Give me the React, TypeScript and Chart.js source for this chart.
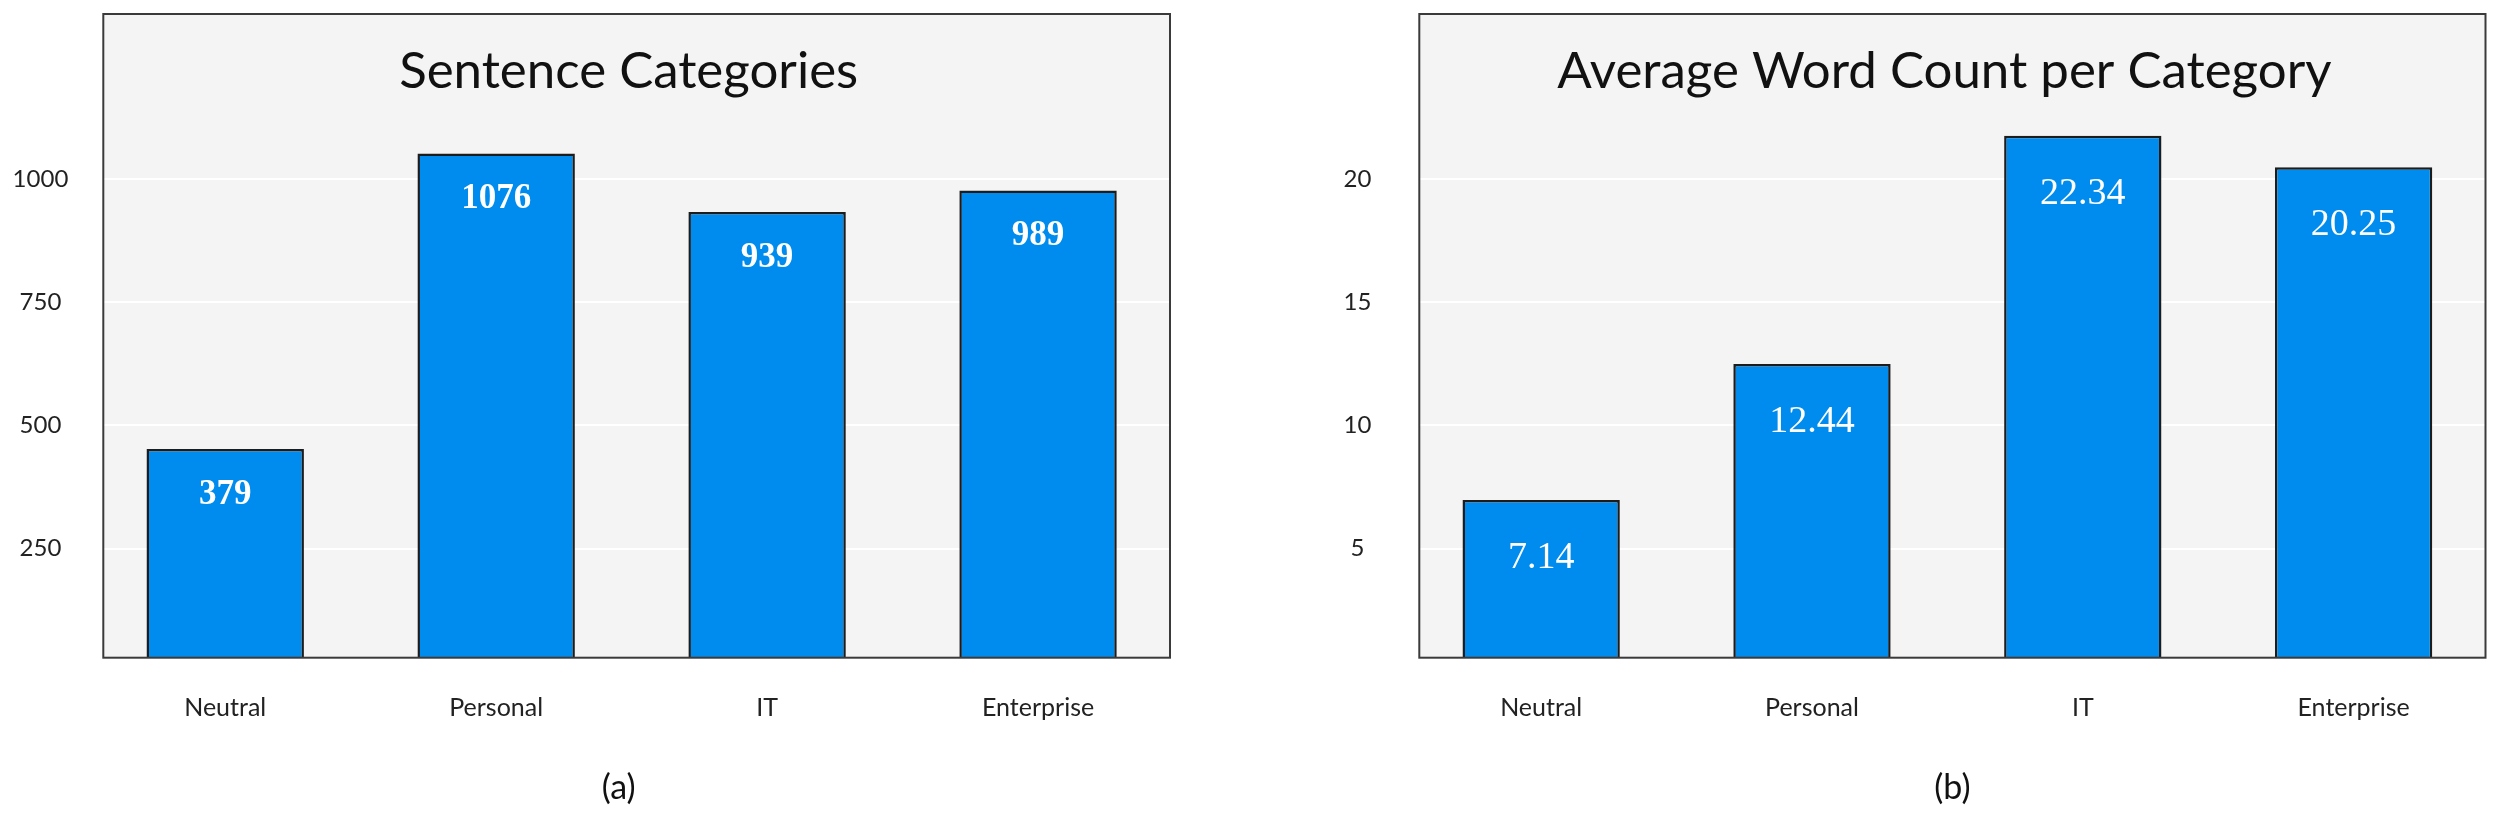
import React, { useEffect, useRef } from 'react';
import { Chart, registerables } from 'chart.js';

Chart.register(...registerables);

// ---- data ----
const categories = ['Neutral', 'Personal', 'IT', 'Enterprise'];

const countTitle = 'Sentence Categories';
const countBarValues = [452, 1052, 933, 977];
const countLabels = ['379', '1076', '939', '989'];
const countTicks = [250, 500, 750, 1000];

const wordTitle = 'Average Word Count per Category';
const wordBarValues = [6.97, 12.49, 21.76, 20.48];
const wordLabels = ['7.14', '12.44', '22.34', '20.25'];
const wordTicks = [5, 10, 15, 20];

type PanelSpec = {
  title: string;
  caption: string;
  values: number[];
  labels: string[];
  ticks: number[];
  yMin: number;
  yMax: number;
  yAxisWidth: number;
  tickPad: number;
  padRight: number;
  labelFont: string;
  labelOffset: number;
  captionDx: number;
  titleDx: number;
};

function makePlugin(spec: PanelSpec) {
  return {
    id: 'panel',
    beforeDraw(chart: any) {
      const { ctx, chartArea: a } = chart;
      ctx.save();
      ctx.fillStyle = '#f4f4f4';
      ctx.fillRect(a.left, a.top, a.right - a.left, a.bottom - a.top);
      ctx.restore();
    },
    afterDatasetsDraw(chart: any) {
      const { ctx, chartArea: a } = chart;
      const meta = chart.getDatasetMeta(0);
      ctx.save();
      ctx.fillStyle = '#ffffff';
      ctx.font = spec.labelFont;
      ctx.textAlign = 'center';
      ctx.textBaseline = 'middle';
      meta.data.forEach((bar: any, i: number) => {
        ctx.fillText(spec.labels[i], bar.x, bar.y + spec.labelOffset);
      });
      ctx.strokeStyle = '#3a3a3a';
      ctx.lineWidth = 2;
      ctx.strokeRect(a.left, a.top, a.right - a.left, a.bottom - a.top);
      const cx = (a.left + a.right) / 2;
      ctx.fillStyle = '#111111';
      ctx.font = '51px Lato';
      ctx.textBaseline = 'alphabetic';
      ctx.fillText(spec.title, cx + spec.titleDx, a.top + 74);
      ctx.font = '34px Lato';
      ctx.textBaseline = 'middle';
      ctx.fillText(spec.caption, cx + spec.captionDx, 788);
      ctx.restore();
    },
  };
}

function Panel({ spec }: { spec: PanelSpec }) {
  const ref = useRef<HTMLCanvasElement | null>(null);
  useEffect(() => {
    if (!ref.current) return;
    const chart = new Chart(ref.current, {
      type: 'bar',
      data: {
        datasets: [
          {
            data: spec.values.map((v, i) => ({ x: i, y: v })),
            backgroundColor: '#008cee',
            borderColor: '#1c1c1c',
            borderWidth: 2.5,
            categoryPercentage: 1,
            barPercentage: 0.581,
          } as any,
        ],
      },
      options: {
        animation: false,
        responsive: false,
        maintainAspectRatio: false,
        layout: { padding: { left: 0, right: spec.padRight, top: 14, bottom: 0 } },
        plugins: {
          legend: { display: false },
          tooltip: { enabled: false },
          title: { display: false },
        },
        scales: {
          x: {
            type: 'linear',
            offset: false,
            min: -0.45,
            max: 3.487,
            afterBuildTicks: (s: any) => {
              s.ticks = categories.map((_, i) => ({ value: i }));
            },
            afterFit: (s: any) => {
              s.height = 158.3;
              s.paddingLeft = 0;
              s.paddingRight = 0;
            },
            grid: { display: false, drawTicks: false },
            border: { display: false },
            ticks: {
              callback: (v: any) => categories[v as number],
              padding: 35,
              font: { family: 'Lato', size: 25 },
              color: '#222222',
              maxRotation: 0,
              autoSkip: false,
            },
          },
          y: {
            min: spec.yMin,
            max: spec.yMax,
            afterBuildTicks: (s: any) => {
              s.ticks = spec.ticks.map((v) => ({ value: v }));
            },
            afterFit: (s: any) => {
              s.width = spec.yAxisWidth;
              s.paddingTop = 0;
              s.paddingBottom = 0;
            },
            grid: { color: '#ffffff', lineWidth: 2, drawTicks: false },
            border: { display: false },
            ticks: {
              callback: (v: any) => String(v),
              crossAlign: 'center',
              padding: spec.tickPad,
              font: { family: 'Lato', size: 24 },
              color: '#222222',
            },
          },
        },
      } as any,
      plugins: [makePlugin(spec)],
    });
    return () => chart.destroy();
  }, [spec]);
  return <canvas ref={ref} width={1250} height={816} style={{ display: 'block', width: 1250, height: 816 }} />;
}

const leftSpec: PanelSpec = {
  title: countTitle,
  caption: '(a)',
  values: countBarValues,
  labels: countLabels,
  ticks: countTicks,
  yMin: 28.6,
  yMax: 1335,
  yAxisWidth: 103.3,
  tickPad: 35,
  padRight: 80,
  labelFont: 'bold 35px "Liberation Serif"',
  labelOffset: 46,
  captionDx: -18,
  titleDx: -8,
};

const rightSpec: PanelSpec = {
  title: wordTitle,
  caption: '(b)',
  values: wordBarValues,
  labels: wordLabels,
  ticks: wordTicks,
  yMin: 0.574,
  yMax: 26.7,
  yAxisWidth: 169.3,
  tickPad: 48,
  padRight: 14.5,
  labelFont: '38px "Liberation Serif"',
  labelOffset: 58,
  captionDx: 0,
  titleDx: -8,
};

export default function App() {
  return (
    <div
      style={{
        position: 'fixed',
        left: 0,
        top: 0,
        width: 2500,
        height: 816,
        display: 'flex',
        background: '#ffffff',
        overflow: 'hidden',
      }}
    >
      <Panel spec={leftSpec} />
      <Panel spec={rightSpec} />
    </div>
  );
}
